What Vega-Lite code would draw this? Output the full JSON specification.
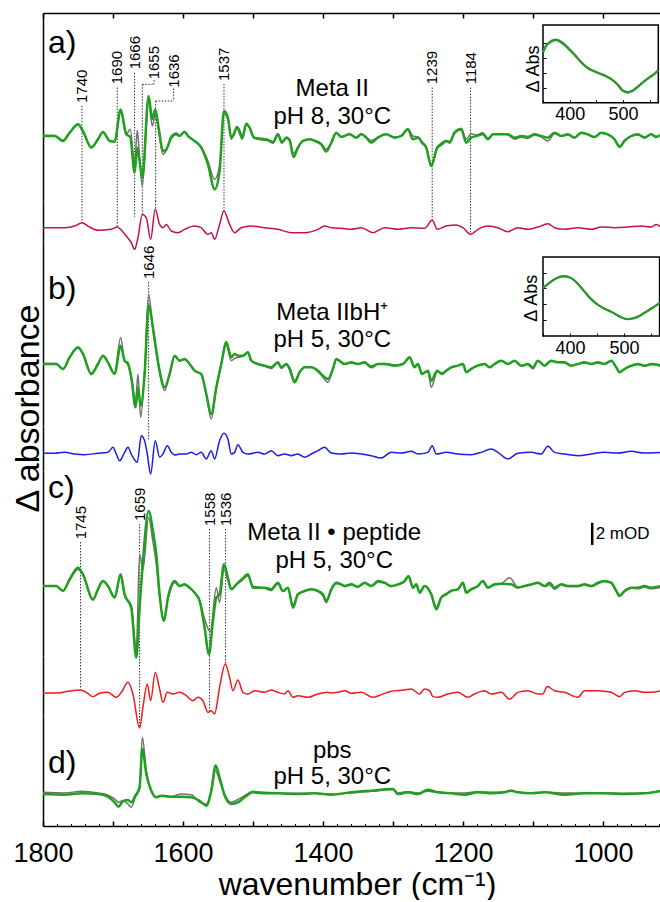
{
"$schema": "https://vega.github.io/schema/vega-lite/v6.json",
"background": "white",
"padding": {"left": 10, "top": 12, "right": 0, "bottom": 0},
"spacing": 0,
"bounds": "flush",
"config": {"view": {"stroke": null}, "font": "Liberation Sans", "axis": {"labelFont": "Liberation Sans", "titleFont": "Liberation Sans", "titleFontWeight": "normal", "labelColor": "black", "titleColor": "black", "domainColor": "black", "tickColor": "black", "grid": false}, "text": {"font": "Liberation Sans", "color": "black"}},
"datasets": {
"a_green": [{"wn":1800,"v":0},{"wn":1783.4,"v":0},{"wn":1771.5,"v":-0.45},{"wn":1761.9,"v":0.3},{"wn":1750,"v":1.06},{"wn":1742.9,"v":0.45},{"wn":1731,"v":-1.06},{"wn":1721.5,"v":-0.3},{"wn":1714.3,"v":0.36},{"wn":1704.8,"v":-0.45},{"wn":1697.7,"v":-0.52},{"wn":1689.1,"v":2.42},{"wn":1681,"v":0.15},{"wn":1675.3,"v":-0.09},{"wn":1669.1,"v":-3.33},{"wn":1665.3,"v":-1.06},{"wn":1662,"v":-2.27},{"wn":1658.1,"v":-3.79},{"wn":1649.1,"v":3.64},{"wn":1643.9,"v":1.52},{"wn":1639.6,"v":2.42},{"wn":1634.8,"v":0.76},{"wn":1628.6,"v":-1.36},{"wn":1623.9,"v":-1.21},{"wn":1616.7,"v":-0.15},{"wn":1609.6,"v":0.15},{"wn":1604.8,"v":0},{"wn":1597.7,"v":0.39},{"wn":1592.9,"v":0},{"wn":1583.4,"v":-0.45},{"wn":1573.9,"v":-1.06},{"wn":1564.3,"v":-2.58},{"wn":1554.8,"v":-4.85},{"wn":1547.7,"v":-3.18},{"wn":1541.5,"v":2.27},{"wn":1535.8,"v":1.67},{"wn":1531,"v":-0.15},{"wn":1527.2,"v":0.15},{"wn":1522.9,"v":0.82},{"wn":1519.1,"v":0.45},{"wn":1515.3,"v":-0.15},{"wn":1509.6,"v":1.12},{"wn":1504.8,"v":0.76},{"wn":1498.6,"v":-0.15},{"wn":1488.1,"v":-0.3},{"wn":1478.6,"v":-0.39},{"wn":1471.5,"v":-0.61},{"wn":1464.3,"v":0.15},{"wn":1458.6,"v":-0.61},{"wn":1452.4,"v":-0.15},{"wn":1447.7,"v":-0.39},{"wn":1442,"v":-1.91},{"wn":1435.7,"v":-1.06},{"wn":1428.6,"v":-0.45},{"wn":1419.1,"v":-0.3},{"wn":1411.9,"v":-0.45},{"wn":1402.4,"v":-0.76},{"wn":1395.3,"v":-1.42},{"wn":1388.1,"v":-0.61},{"wn":1381,"v":0.3},{"wn":1373.9,"v":-0.09},{"wn":1361.9,"v":0.15},{"wn":1352.4,"v":-0.15},{"wn":1345.3,"v":0.15},{"wn":1338.1,"v":-0.15},{"wn":1331,"v":-0.61},{"wn":1321.5,"v":-0.15},{"wn":1309.6,"v":0.15},{"wn":1297.7,"v":-0.15},{"wn":1288.1,"v":0},{"wn":1278.6,"v":0.61},{"wn":1271.5,"v":-0.3},{"wn":1263.4,"v":-0.15},{"wn":1258.6,"v":-0.61},{"wn":1252.4,"v":-1.06},{"wn":1245.3,"v":-2.73},{"wn":1236.7,"v":-1.06},{"wn":1230,"v":-0.76},{"wn":1223.9,"v":-0.45},{"wn":1219.1,"v":-0.61},{"wn":1211.9,"v":0.3},{"wn":1202.4,"v":0.61},{"wn":1195.3,"v":-0.61},{"wn":1188.1,"v":-0.15},{"wn":1181,"v":0},{"wn":1171.5,"v":0.15},{"wn":1164.3,"v":-0.3},{"wn":1157.2,"v":0.15},{"wn":1145.3,"v":0.15},{"wn":1135.8,"v":0.15},{"wn":1126.2,"v":-0.15},{"wn":1116.7,"v":0},{"wn":1107.2,"v":-0.09},{"wn":1097.6,"v":0.15},{"wn":1088.1,"v":0},{"wn":1078.6,"v":-0.15},{"wn":1069.1,"v":0.3},{"wn":1059.6,"v":0},{"wn":1050,"v":0.15},{"wn":1040.5,"v":-0.15},{"wn":1031,"v":0.3},{"wn":1021.5,"v":0.15},{"wn":1011.9,"v":-0.09},{"wn":1002.4,"v":0.3},{"wn":992.9,"v":0.15},{"wn":983.4,"v":-0.3},{"wn":976.2,"v":-1},{"wn":969.1,"v":-0.45},{"wn":959.5,"v":0},{"wn":950,"v":0.15},{"wn":940.5,"v":-0.15},{"wn":931,"v":0.15},{"wn":923.8,"v":-0.09},{"wn":916.7,"v":0.15}],
"a_gray": [{"wn":1800,"v":0.05},{"wn":1783.4,"v":0.05},{"wn":1771.5,"v":-0.4},{"wn":1761.9,"v":0.3},{"wn":1750,"v":1},{"wn":1742.9,"v":0.45},{"wn":1731,"v":-1},{"wn":1721.5,"v":-0.3},{"wn":1714.3,"v":0.36},{"wn":1704.8,"v":-0.45},{"wn":1697.7,"v":-0.52},{"wn":1689.1,"v":2.2},{"wn":1681,"v":0.15},{"wn":1675.3,"v":0.61},{"wn":1669.1,"v":-2.6},{"wn":1665.3,"v":0.52},{"wn":1662,"v":-2},{"wn":1658.1,"v":-4.55},{"wn":1649.1,"v":3.2},{"wn":1643.9,"v":0.9},{"wn":1639.6,"v":1.9},{"wn":1634.8,"v":0.45},{"wn":1628.6,"v":-1.67},{"wn":1623.9,"v":-1.3},{"wn":1616.7,"v":0},{"wn":1609.6,"v":0.3},{"wn":1604.8,"v":0.05},{"wn":1597.7,"v":0.39},{"wn":1592.9,"v":0},{"wn":1583.4,"v":-0.45},{"wn":1573.9,"v":-1},{"wn":1564.3,"v":-2.3},{"wn":1554.8,"v":-3.94},{"wn":1547.7,"v":-2.7},{"wn":1541.5,"v":2},{"wn":1535.8,"v":1.5},{"wn":1531,"v":-0.3},{"wn":1527.2,"v":0.3},{"wn":1522.9,"v":0.7},{"wn":1519.1,"v":0.2},{"wn":1515.3,"v":-0.3},{"wn":1509.6,"v":1},{"wn":1504.8,"v":0.76},{"wn":1498.6,"v":-0.1},{"wn":1488.1,"v":-0.2},{"wn":1478.6,"v":-0.3},{"wn":1471.5,"v":-0.5},{"wn":1464.3,"v":0.2},{"wn":1458.6,"v":-0.5},{"wn":1452.4,"v":-0.1},{"wn":1447.7,"v":-0.3},{"wn":1442,"v":-1.55},{"wn":1435.7,"v":-1},{"wn":1428.6,"v":-0.45},{"wn":1419.1,"v":-0.3},{"wn":1411.9,"v":-0.4},{"wn":1402.4,"v":-0.7},{"wn":1395.3,"v":-1.2},{"wn":1388.1,"v":-0.6},{"wn":1381,"v":0.3},{"wn":1373.9,"v":-0.05},{"wn":1361.9,"v":0.15},{"wn":1352.4,"v":-0.15},{"wn":1345.3,"v":0.2},{"wn":1338.1,"v":-0.1},{"wn":1331,"v":-0.4},{"wn":1321.5,"v":-0.1},{"wn":1309.6,"v":0.15},{"wn":1297.7,"v":-0.1},{"wn":1288.1,"v":0.05},{"wn":1278.6,"v":0.65},{"wn":1271.5,"v":0},{"wn":1263.4,"v":-0.1},{"wn":1258.6,"v":-0.5},{"wn":1252.4,"v":-1},{"wn":1245.3,"v":-2.6},{"wn":1236.7,"v":-1},{"wn":1230,"v":-0.6},{"wn":1223.9,"v":-0.4},{"wn":1219.1,"v":-0.5},{"wn":1211.9,"v":0.4},{"wn":1202.4,"v":0.7},{"wn":1195.3,"v":-0.3},{"wn":1188.1,"v":0.2},{"wn":1181,"v":0.1},{"wn":1171.5,"v":0.3},{"wn":1164.3,"v":-0.2},{"wn":1157.2,"v":0.15},{"wn":1145.3,"v":0.2},{"wn":1135.8,"v":0.1},{"wn":1126.2,"v":-0.3},{"wn":1116.7,"v":-0.1},{"wn":1107.2,"v":-0.2},{"wn":1097.6,"v":0.1},{"wn":1088.1,"v":-0.1},{"wn":1078.6,"v":-0.45},{"wn":1069.1,"v":0.2},{"wn":1059.6,"v":0},{"wn":1050,"v":0.1},{"wn":1040.5,"v":-0.15},{"wn":1031,"v":0.25},{"wn":1021.5,"v":0.1},{"wn":1011.9,"v":-0.1},{"wn":1002.4,"v":0.25},{"wn":992.9,"v":0.15},{"wn":983.4,"v":-0.3},{"wn":976.2,"v":-0.9},{"wn":969.1,"v":-0.4},{"wn":959.5,"v":0},{"wn":950,"v":0.1},{"wn":940.5,"v":-0.1},{"wn":931,"v":0.15},{"wn":923.8,"v":-0.05},{"wn":916.7,"v":0.1}],
"a_diff": [{"wn":1800,"v":0},{"wn":1769.1,"v":0},{"wn":1754.8,"v":0.15},{"wn":1744.3,"v":0.45},{"wn":1735.7,"v":0.15},{"wn":1721.5,"v":-0.24},{"wn":1702.4,"v":-0.15},{"wn":1693.9,"v":0.06},{"wn":1689.1,"v":-0.15},{"wn":1681,"v":-0.76},{"wn":1673.9,"v":-1.36},{"wn":1669.1,"v":-1.97},{"wn":1664.3,"v":-0.91},{"wn":1658.1,"v":1.21},{"wn":1652.4,"v":0.91},{"wn":1646.2,"v":-1.06},{"wn":1639.6,"v":1.67},{"wn":1633.4,"v":0.3},{"wn":1628.6,"v":0},{"wn":1623.9,"v":0.3},{"wn":1616.7,"v":-0.3},{"wn":1607.2,"v":-0.45},{"wn":1597.7,"v":-0.15},{"wn":1583.4,"v":0.15},{"wn":1573.9,"v":0},{"wn":1564.3,"v":-0.61},{"wn":1559.6,"v":-0.45},{"wn":1554.8,"v":-1.06},{"wn":1547.7,"v":0.3},{"wn":1541.5,"v":1.52},{"wn":1533.4,"v":0.3},{"wn":1526.2,"v":-0.45},{"wn":1516.7,"v":0},{"wn":1502.4,"v":0.15},{"wn":1483.4,"v":0},{"wn":1464.3,"v":-0.15},{"wn":1445.3,"v":-0.45},{"wn":1426.2,"v":-0.45},{"wn":1407.2,"v":-0.15},{"wn":1397.7,"v":0.15},{"wn":1388.1,"v":0},{"wn":1373.9,"v":-0.06},{"wn":1359.6,"v":-0.15},{"wn":1345.3,"v":0},{"wn":1328.6,"v":-0.45},{"wn":1311.9,"v":0},{"wn":1292.9,"v":-0.15},{"wn":1273.9,"v":0},{"wn":1254.8,"v":-0.06},{"wn":1243.9,"v":0.67},{"wn":1236.7,"v":-0.15},{"wn":1223.9,"v":0.15},{"wn":1209.6,"v":0.24},{"wn":1200,"v":0},{"wn":1189.1,"v":-0.61},{"wn":1178.6,"v":-0.15},{"wn":1164.3,"v":0.15},{"wn":1150,"v":0},{"wn":1135.8,"v":-0.36},{"wn":1121.5,"v":0},{"wn":1107.2,"v":-0.15},{"wn":1092.9,"v":0.06},{"wn":1078.6,"v":0.36},{"wn":1069.1,"v":0},{"wn":1054.8,"v":-0.15},{"wn":1035.8,"v":0},{"wn":1016.7,"v":-0.15},{"wn":1002.4,"v":0.06},{"wn":983.4,"v":0},{"wn":964.3,"v":0.06},{"wn":945.2,"v":0.15},{"wn":931,"v":0.06},{"wn":923.8,"v":0.3},{"wn":916.7,"v":0}],
"b_green": [{"wn":1800,"v":0},{"wn":1781,"v":0},{"wn":1771.5,"v":-0.45},{"wn":1761.9,"v":0.61},{"wn":1750,"v":1.52},{"wn":1742.9,"v":0.91},{"wn":1731,"v":-0.91},{"wn":1721.5,"v":0},{"wn":1714.3,"v":0.76},{"wn":1707.2,"v":0.15},{"wn":1697.7,"v":-0.91},{"wn":1689.1,"v":1.67},{"wn":1683.4,"v":0.3},{"wn":1678.6,"v":0},{"wn":1673.9,"v":-1.21},{"wn":1667.7,"v":-3.94},{"wn":1664.3,"v":-2.12},{"wn":1660.5,"v":-3.79},{"wn":1654.8,"v":-0.91},{"wn":1649.1,"v":5.3},{"wn":1642.9,"v":3.33},{"wn":1638.1,"v":1.21},{"wn":1633.4,"v":-0.61},{"wn":1626.2,"v":-2.12},{"wn":1619.1,"v":-0.91},{"wn":1611.9,"v":0.76},{"wn":1604.8,"v":0.3},{"wn":1597.7,"v":0.45},{"wn":1590.5,"v":0},{"wn":1583.4,"v":-0.61},{"wn":1573.9,"v":-0.91},{"wn":1566.7,"v":-2.73},{"wn":1559.6,"v":-4.55},{"wn":1552.4,"v":-2.12},{"wn":1545.3,"v":0},{"wn":1538.1,"v":1.97},{"wn":1531,"v":0.61},{"wn":1526.2,"v":0.91},{"wn":1521.5,"v":0.76},{"wn":1514.3,"v":0.76},{"wn":1507.2,"v":1.06},{"wn":1502.4,"v":0.3},{"wn":1492.9,"v":0},{"wn":1483.4,"v":-0.15},{"wn":1473.9,"v":-0.3},{"wn":1464.3,"v":0.15},{"wn":1459.6,"v":-0.3},{"wn":1452.4,"v":0},{"wn":1447.7,"v":-0.45},{"wn":1440.5,"v":-1.67},{"wn":1433.4,"v":-0.76},{"wn":1426.2,"v":-0.3},{"wn":1416.7,"v":-0.3},{"wn":1407.2,"v":-0.61},{"wn":1400,"v":-1.06},{"wn":1392.9,"v":-1.36},{"wn":1385.8,"v":-0.45},{"wn":1381,"v":0.45},{"wn":1369.1,"v":0},{"wn":1359.6,"v":0.15},{"wn":1350,"v":0},{"wn":1340.5,"v":0.15},{"wn":1331,"v":-0.3},{"wn":1321.5,"v":0},{"wn":1311.9,"v":0},{"wn":1297.7,"v":-0.15},{"wn":1285.8,"v":0},{"wn":1276.2,"v":0.61},{"wn":1269.1,"v":-0.3},{"wn":1264.3,"v":0},{"wn":1258.6,"v":-0.91},{"wn":1250,"v":-0.61},{"wn":1245.3,"v":-1.52},{"wn":1236.7,"v":-0.61},{"wn":1230,"v":-0.91},{"wn":1223.9,"v":-0.61},{"wn":1216.7,"v":-0.3},{"wn":1207.2,"v":-0.15},{"wn":1200,"v":0},{"wn":1195.3,"v":-0.76},{"wn":1188.1,"v":-0.45},{"wn":1178.6,"v":-0.15},{"wn":1169.1,"v":0},{"wn":1162,"v":-0.3},{"wn":1154.8,"v":0},{"wn":1145.3,"v":0.3},{"wn":1135.8,"v":0},{"wn":1126.2,"v":0.3},{"wn":1116.7,"v":-0.15},{"wn":1107.2,"v":0},{"wn":1100,"v":-0.3},{"wn":1092.9,"v":0.3},{"wn":1083.4,"v":-0.15},{"wn":1073.9,"v":0.3},{"wn":1064.3,"v":0.15},{"wn":1054.8,"v":0.15},{"wn":1045.3,"v":-0.15},{"wn":1035.8,"v":0},{"wn":1026.2,"v":0.15},{"wn":1016.7,"v":0},{"wn":1007.2,"v":0.15},{"wn":997.6,"v":0},{"wn":988.1,"v":0.3},{"wn":981,"v":-0.3},{"wn":976.2,"v":-0.76},{"wn":969.1,"v":-0.45},{"wn":959.5,"v":-0.15},{"wn":950,"v":0},{"wn":940.5,"v":-0.15},{"wn":931,"v":0},{"wn":916.7,"v":-0.15}],
"b_gray": [{"wn":1800,"v":0.05},{"wn":1781,"v":0.05},{"wn":1771.5,"v":-0.5},{"wn":1761.9,"v":0.61},{"wn":1750,"v":1.45},{"wn":1742.9,"v":0.91},{"wn":1731,"v":-0.85},{"wn":1721.5,"v":0},{"wn":1714.3,"v":0.7},{"wn":1707.2,"v":0.15},{"wn":1697.7,"v":-0.85},{"wn":1689.1,"v":2.42},{"wn":1683.4,"v":0.3},{"wn":1678.6,"v":0.15},{"wn":1673.9,"v":-1.1},{"wn":1667.7,"v":-3.33},{"wn":1664.3,"v":-0.91},{"wn":1660.5,"v":-4.85},{"wn":1654.8,"v":-0.6},{"wn":1649.1,"v":6.36},{"wn":1642.9,"v":3},{"wn":1638.1,"v":1},{"wn":1633.4,"v":-0.8},{"wn":1626.2,"v":-2.42},{"wn":1619.1,"v":-0.91},{"wn":1611.9,"v":0.7},{"wn":1604.8,"v":0.3},{"wn":1597.7,"v":0.4},{"wn":1590.5,"v":0},{"wn":1583.4,"v":-0.61},{"wn":1573.9,"v":-0.91},{"wn":1566.7,"v":-2.8},{"wn":1559.6,"v":-5},{"wn":1552.4,"v":-2.3},{"wn":1545.3,"v":0},{"wn":1538.1,"v":1.7},{"wn":1531,"v":0.3},{"wn":1526.2,"v":0.5},{"wn":1521.5,"v":0.6},{"wn":1514.3,"v":0.7},{"wn":1507.2,"v":1},{"wn":1502.4,"v":0.3},{"wn":1492.9,"v":0},{"wn":1483.4,"v":-0.2},{"wn":1473.9,"v":-0.4},{"wn":1464.3,"v":0.1},{"wn":1459.6,"v":-0.4},{"wn":1452.4,"v":-0.1},{"wn":1447.7,"v":-0.3},{"wn":1440.5,"v":-1.5},{"wn":1433.4,"v":-0.7},{"wn":1426.2,"v":-0.3},{"wn":1416.7,"v":-0.3},{"wn":1407.2,"v":-0.7},{"wn":1400,"v":-1.2},{"wn":1392.9,"v":-1.67},{"wn":1385.8,"v":-0.45},{"wn":1381,"v":0.4},{"wn":1369.1,"v":0},{"wn":1359.6,"v":0.1},{"wn":1350,"v":0},{"wn":1340.5,"v":0.1},{"wn":1331,"v":-0.15},{"wn":1321.5,"v":0},{"wn":1311.9,"v":0.05},{"wn":1297.7,"v":-0.1},{"wn":1285.8,"v":0},{"wn":1276.2,"v":0.55},{"wn":1269.1,"v":-0.2},{"wn":1264.3,"v":0},{"wn":1258.6,"v":-0.8},{"wn":1250,"v":-0.7},{"wn":1245.3,"v":-2.12},{"wn":1236.7,"v":-0.7},{"wn":1230,"v":-0.8},{"wn":1223.9,"v":-0.6},{"wn":1216.7,"v":-0.3},{"wn":1207.2,"v":-0.15},{"wn":1200,"v":0},{"wn":1195.3,"v":-0.7},{"wn":1188.1,"v":-0.4},{"wn":1178.6,"v":-0.1},{"wn":1169.1,"v":0},{"wn":1162,"v":-0.3},{"wn":1154.8,"v":0},{"wn":1145.3,"v":0.3},{"wn":1135.8,"v":0},{"wn":1126.2,"v":0.25},{"wn":1116.7,"v":-0.2},{"wn":1107.2,"v":-0.05},{"wn":1100,"v":-0.45},{"wn":1092.9,"v":0.25},{"wn":1083.4,"v":-0.15},{"wn":1073.9,"v":0.25},{"wn":1064.3,"v":0.15},{"wn":1054.8,"v":0.1},{"wn":1045.3,"v":-0.15},{"wn":1035.8,"v":0},{"wn":1026.2,"v":0.1},{"wn":1016.7,"v":0},{"wn":1007.2,"v":0.1},{"wn":997.6,"v":0},{"wn":988.1,"v":0.25},{"wn":981,"v":-0.3},{"wn":976.2,"v":-0.7},{"wn":969.1,"v":-0.45},{"wn":959.5,"v":-0.2},{"wn":950,"v":-0.05},{"wn":940.5,"v":-0.2},{"wn":931,"v":-0.05},{"wn":916.7,"v":-0.2}],
"b_diff": [{"wn":1800,"v":0.09},{"wn":1783.4,"v":0.06},{"wn":1769.1,"v":0.15},{"wn":1754.8,"v":0},{"wn":1740.5,"v":-0.06},{"wn":1721.5,"v":0.06},{"wn":1707.2,"v":0.15},{"wn":1700,"v":0.61},{"wn":1695.3,"v":0},{"wn":1690.5,"v":-0.61},{"wn":1683.4,"v":0.15},{"wn":1678.6,"v":0.61},{"wn":1673.9,"v":0},{"wn":1665.3,"v":-0.76},{"wn":1659.6,"v":1.67},{"wn":1654.8,"v":1.21},{"wn":1651,"v":0},{"wn":1646.2,"v":-1.82},{"wn":1639.6,"v":1.21},{"wn":1633.4,"v":-0.3},{"wn":1628.6,"v":0},{"wn":1622.4,"v":0.76},{"wn":1616.7,"v":0.15},{"wn":1611.9,"v":-0.09},{"wn":1604.8,"v":0},{"wn":1595.3,"v":0},{"wn":1588.1,"v":0.15},{"wn":1581,"v":-0.06},{"wn":1573.9,"v":0.15},{"wn":1566.7,"v":-0.45},{"wn":1559.6,"v":0.3},{"wn":1554.8,"v":-0.45},{"wn":1547.7,"v":1.21},{"wn":1541.5,"v":1.88},{"wn":1535.8,"v":1.36},{"wn":1531,"v":0},{"wn":1526.2,"v":0.15},{"wn":1521.5,"v":0.85},{"wn":1514.3,"v":0.15},{"wn":1507.2,"v":0},{"wn":1492.9,"v":0.15},{"wn":1483.4,"v":0},{"wn":1473.9,"v":0.3},{"wn":1464.3,"v":-0.15},{"wn":1454.8,"v":0},{"wn":1445.3,"v":-0.15},{"wn":1435.7,"v":0},{"wn":1426.2,"v":-0.3},{"wn":1416.7,"v":0},{"wn":1407.2,"v":0.3},{"wn":1397.7,"v":0.61},{"wn":1388.1,"v":0.09},{"wn":1373.9,"v":0},{"wn":1359.6,"v":0.09},{"wn":1345.3,"v":0},{"wn":1331,"v":-0.15},{"wn":1316.7,"v":-0.36},{"wn":1302.4,"v":0.15},{"wn":1288.1,"v":0.09},{"wn":1273.9,"v":0.24},{"wn":1264.3,"v":0},{"wn":1250,"v":0.15},{"wn":1243.9,"v":0.76},{"wn":1238.1,"v":0},{"wn":1223.9,"v":0.15},{"wn":1207.2,"v":0},{"wn":1188.1,"v":-0.06},{"wn":1173.9,"v":0.15},{"wn":1159.6,"v":0.45},{"wn":1150,"v":0.15},{"wn":1135.8,"v":-0.45},{"wn":1121.5,"v":0.06},{"wn":1102.4,"v":0.15},{"wn":1088.1,"v":0},{"wn":1078.6,"v":0.7},{"wn":1069.1,"v":0.15},{"wn":1054.8,"v":0},{"wn":1035.8,"v":-0.15},{"wn":1016.7,"v":0},{"wn":997.6,"v":0.15},{"wn":978.6,"v":0.09},{"wn":959.5,"v":0.24},{"wn":940.5,"v":0.09},{"wn":916.7,"v":0.15}],
"c_green": [{"wn":1800,"v":0},{"wn":1781,"v":0},{"wn":1771.5,"v":-0.45},{"wn":1761.9,"v":0.61},{"wn":1750,"v":1.67},{"wn":1742.9,"v":1.06},{"wn":1728.6,"v":-1.21},{"wn":1721.5,"v":-0.3},{"wn":1714.3,"v":0.45},{"wn":1707.2,"v":0},{"wn":1697.7,"v":-1.06},{"wn":1689.1,"v":1.06},{"wn":1683.4,"v":-0.76},{"wn":1673.9,"v":-1.97},{"wn":1666.7,"v":-6.52},{"wn":1662,"v":-1.97},{"wn":1657.2,"v":2.27},{"wn":1649.1,"v":6.82},{"wn":1642.9,"v":5},{"wn":1638.1,"v":2.88},{"wn":1633.4,"v":-0.76},{"wn":1627.2,"v":-3.18},{"wn":1621.5,"v":-1.06},{"wn":1611.9,"v":0.45},{"wn":1604.8,"v":0},{"wn":1597.7,"v":0.15},{"wn":1590.5,"v":-0.15},{"wn":1583.4,"v":-0.61},{"wn":1576.2,"v":-1.36},{"wn":1569.1,"v":-3.79},{"wn":1562.9,"v":-6.21},{"wn":1557.2,"v":-3.18},{"wn":1552.4,"v":-1.06},{"wn":1547.7,"v":-0.76},{"wn":1541.5,"v":1.97},{"wn":1535.8,"v":0.76},{"wn":1531,"v":-0.3},{"wn":1523.8,"v":0.15},{"wn":1515.7,"v":0.61},{"wn":1507.2,"v":1.06},{"wn":1500,"v":-0.15},{"wn":1492.9,"v":-0.15},{"wn":1483.4,"v":-0.15},{"wn":1473.9,"v":-0.3},{"wn":1464.3,"v":0.3},{"wn":1457.2,"v":-0.45},{"wn":1450,"v":-0.15},{"wn":1442.9,"v":-1.97},{"wn":1435.7,"v":-0.76},{"wn":1426.2,"v":-0.45},{"wn":1416.7,"v":-0.3},{"wn":1407.2,"v":-0.45},{"wn":1400,"v":-0.76},{"wn":1395.3,"v":-1.36},{"wn":1388.1,"v":-0.3},{"wn":1381,"v":0.3},{"wn":1373.9,"v":0.15},{"wn":1369.1,"v":0},{"wn":1359.6,"v":0.15},{"wn":1350,"v":-0.06},{"wn":1340.5,"v":0.3},{"wn":1331,"v":0},{"wn":1321.5,"v":0.45},{"wn":1311.9,"v":0.3},{"wn":1302.4,"v":0},{"wn":1292.9,"v":0.15},{"wn":1283.4,"v":0.45},{"wn":1277.6,"v":0.91},{"wn":1271.5,"v":-0.15},{"wn":1266.7,"v":0.15},{"wn":1261.9,"v":-0.61},{"wn":1254.8,"v":0},{"wn":1245.3,"v":-0.76},{"wn":1238.1,"v":-2.12},{"wn":1231,"v":-1.06},{"wn":1223.9,"v":-0.76},{"wn":1216.7,"v":-0.45},{"wn":1207.2,"v":-0.3},{"wn":1200,"v":0.3},{"wn":1195.3,"v":-0.61},{"wn":1188.1,"v":-0.3},{"wn":1178.6,"v":0},{"wn":1171.5,"v":0.45},{"wn":1164.3,"v":-0.15},{"wn":1154.8,"v":0.15},{"wn":1145.3,"v":0.21},{"wn":1131,"v":0.15},{"wn":1121.5,"v":-0.15},{"wn":1111.9,"v":0},{"wn":1102.4,"v":0.15},{"wn":1092.9,"v":0.3},{"wn":1083.4,"v":0},{"wn":1076.2,"v":0.3},{"wn":1069.1,"v":-0.15},{"wn":1059.6,"v":0.15},{"wn":1050,"v":0},{"wn":1035.8,"v":0},{"wn":1026.2,"v":0.15},{"wn":1016.7,"v":0},{"wn":1007.2,"v":0.3},{"wn":997.6,"v":0.45},{"wn":988.1,"v":0.3},{"wn":981,"v":-0.45},{"wn":976.2,"v":-0.91},{"wn":969.1,"v":-0.45},{"wn":959.5,"v":-0.15},{"wn":950,"v":-0.15},{"wn":940.5,"v":0},{"wn":931,"v":-0.15},{"wn":916.7,"v":0}],
"c_gray": [{"wn":1800,"v":0},{"wn":1781,"v":0},{"wn":1771.5,"v":-0.4},{"wn":1761.9,"v":0.55},{"wn":1750,"v":1.5},{"wn":1742.9,"v":1},{"wn":1728.6,"v":-1.3},{"wn":1721.5,"v":-0.3},{"wn":1714.3,"v":0.4},{"wn":1707.2,"v":0},{"wn":1697.7,"v":-1},{"wn":1689.1,"v":0.9},{"wn":1683.4,"v":-0.8},{"wn":1673.9,"v":-1.8},{"wn":1666.7,"v":-5.8},{"wn":1662,"v":2.88},{"wn":1657.2,"v":1.5},{"wn":1649.1,"v":6.2},{"wn":1642.9,"v":4},{"wn":1638.1,"v":2},{"wn":1633.4,"v":-1},{"wn":1627.2,"v":-2.9},{"wn":1621.5,"v":-1.2},{"wn":1611.9,"v":0.3},{"wn":1604.8,"v":0},{"wn":1597.7,"v":0.1},{"wn":1590.5,"v":-0.2},{"wn":1583.4,"v":-0.6},{"wn":1576.2,"v":-1.3},{"wn":1569.1,"v":-3},{"wn":1561,"v":-4.15},{"wn":1552.4,"v":-0.15},{"wn":1547.7,"v":-1.5},{"wn":1541.5,"v":1.5},{"wn":1535.8,"v":0.5},{"wn":1531,"v":-0.3},{"wn":1523.8,"v":0.1},{"wn":1515.7,"v":0.5},{"wn":1507.2,"v":0.9},{"wn":1500,"v":0},{"wn":1492.9,"v":-0.1},{"wn":1483.4,"v":-0.2},{"wn":1473.9,"v":-0.4},{"wn":1464.3,"v":0.2},{"wn":1457.2,"v":-0.5},{"wn":1450,"v":-0.2},{"wn":1442.9,"v":-1.7},{"wn":1435.7,"v":-0.7},{"wn":1426.2,"v":-0.5},{"wn":1416.7,"v":-0.3},{"wn":1407.2,"v":-0.5},{"wn":1400,"v":-0.9},{"wn":1395.3,"v":-1.52},{"wn":1388.1,"v":-0.4},{"wn":1381,"v":0.2},{"wn":1373.9,"v":0.1},{"wn":1369.1,"v":-0.05},{"wn":1359.6,"v":0.1},{"wn":1350,"v":-0.1},{"wn":1340.5,"v":0.25},{"wn":1331,"v":-0.05},{"wn":1321.5,"v":0.35},{"wn":1311.9,"v":0.25},{"wn":1302.4,"v":-0.05},{"wn":1292.9,"v":0.1},{"wn":1283.4,"v":0.4},{"wn":1277.6,"v":0.8},{"wn":1271.5,"v":-0.2},{"wn":1266.7,"v":0.1},{"wn":1261.9,"v":-0.5},{"wn":1254.8,"v":0},{"wn":1245.3,"v":-0.7},{"wn":1238.1,"v":-1.9},{"wn":1231,"v":-1},{"wn":1223.9,"v":-0.7},{"wn":1216.7,"v":-0.4},{"wn":1207.2,"v":-0.3},{"wn":1200,"v":0.2},{"wn":1195.3,"v":-0.5},{"wn":1188.1,"v":-0.3},{"wn":1178.6,"v":0},{"wn":1171.5,"v":0.4},{"wn":1164.3,"v":-0.1},{"wn":1154.8,"v":0.1},{"wn":1145.3,"v":0.2},{"wn":1133.4,"v":0.76},{"wn":1121.5,"v":-0.1},{"wn":1111.9,"v":0},{"wn":1102.4,"v":0.1},{"wn":1092.9,"v":0.25},{"wn":1083.4,"v":-0.05},{"wn":1076.2,"v":0.1},{"wn":1069.1,"v":-0.3},{"wn":1059.6,"v":0.1},{"wn":1050,"v":-0.05},{"wn":1035.8,"v":-0.05},{"wn":1026.2,"v":0.1},{"wn":1016.7,"v":-0.05},{"wn":1007.2,"v":0.2},{"wn":997.6,"v":0.4},{"wn":988.1,"v":0.25},{"wn":981,"v":-0.4},{"wn":976.2,"v":-0.8},{"wn":969.1,"v":-0.5},{"wn":959.5,"v":-0.2},{"wn":950,"v":-0.25},{"wn":940.5,"v":-0.1},{"wn":931,"v":-0.25},{"wn":916.7,"v":-0.1}],
"c_diff": [{"wn":1800,"v":0},{"wn":1778.6,"v":0},{"wn":1764.3,"v":0.15},{"wn":1746.2,"v":0.27},{"wn":1738.1,"v":0.06},{"wn":1728.6,"v":-0.33},{"wn":1719.1,"v":-0.03},{"wn":1707.2,"v":0.06},{"wn":1695.3,"v":-0.39},{"wn":1688.1,"v":0.06},{"wn":1678.6,"v":0.97},{"wn":1671.5,"v":-0.09},{"wn":1662,"v":-3.18},{"wn":1657.2,"v":-1.3},{"wn":1651,"v":0.82},{"wn":1646.2,"v":-0.7},{"wn":1639.6,"v":1.88},{"wn":1633.4,"v":0.36},{"wn":1628.6,"v":-0.85},{"wn":1622.4,"v":0.06},{"wn":1614.3,"v":-0.09},{"wn":1604.8,"v":0.06},{"wn":1595.3,"v":-0.24},{"wn":1585.8,"v":-0.7},{"wn":1578.6,"v":-0.39},{"wn":1571.5,"v":-0.7},{"wn":1564.3,"v":-1.76},{"wn":1559.6,"v":-1.61},{"wn":1554.8,"v":-1.91},{"wn":1547.7,"v":0.52},{"wn":1539.5,"v":2.64},{"wn":1533.4,"v":1.42},{"wn":1528.6,"v":0.21},{"wn":1521.5,"v":1.18},{"wn":1514.3,"v":0.06},{"wn":1507.2,"v":-0.09},{"wn":1497.6,"v":0.21},{"wn":1483.4,"v":0.06},{"wn":1473.9,"v":0.27},{"wn":1464.3,"v":0.06},{"wn":1454.8,"v":-0.09},{"wn":1450,"v":0.21},{"wn":1442.9,"v":-0.39},{"wn":1435.7,"v":-0.24},{"wn":1421.5,"v":-0.39},{"wn":1407.2,"v":-0.09},{"wn":1392.9,"v":0.06},{"wn":1388.1,"v":0},{"wn":1378.6,"v":0.06},{"wn":1369.1,"v":0.21},{"wn":1359.6,"v":-0.03},{"wn":1345.3,"v":0.06},{"wn":1328.6,"v":-0.39},{"wn":1316.7,"v":-0.15},{"wn":1302.4,"v":0.15},{"wn":1283.4,"v":0.27},{"wn":1273.9,"v":0.36},{"wn":1261.9,"v":-0.09},{"wn":1254.8,"v":0.36},{"wn":1247.7,"v":0.21},{"wn":1242.9,"v":-0.33},{"wn":1235.7,"v":-0.39},{"wn":1221.5,"v":-0.09},{"wn":1207.2,"v":0.06},{"wn":1192.9,"v":-0.39},{"wn":1183.4,"v":-0.09},{"wn":1169.1,"v":0.21},{"wn":1159.6,"v":-0.09},{"wn":1145.3,"v":0.06},{"wn":1133.4,"v":-0.55},{"wn":1121.5,"v":0.06},{"wn":1107.2,"v":0.21},{"wn":1092.9,"v":-0.09},{"wn":1085.7,"v":-0.09},{"wn":1079.6,"v":0.58},{"wn":1069.1,"v":0.21},{"wn":1054.8,"v":0.06},{"wn":1035.8,"v":-0.39},{"wn":1026.2,"v":0.21},{"wn":1007.2,"v":0.21},{"wn":988.1,"v":0.06},{"wn":976.2,"v":-0.33},{"wn":969.1,"v":0.06},{"wn":954.8,"v":0.21},{"wn":940.5,"v":0.06},{"wn":931,"v":0.06},{"wn":916.7,"v":0.21}],
"d_green": [{"wn":1800,"v":0},{"wn":1769.1,"v":-0.06},{"wn":1745.3,"v":0.06},{"wn":1721.5,"v":0},{"wn":1707.2,"v":-0.24},{"wn":1697.7,"v":-0.76},{"wn":1692,"v":-1.15},{"wn":1685.8,"v":-0.67},{"wn":1678.6,"v":-0.55},{"wn":1673.9,"v":-0.76},{"wn":1668.1,"v":-0.15},{"wn":1662,"v":0.61},{"wn":1658.1,"v":4.09},{"wn":1652.4,"v":1.82},{"wn":1645.3,"v":0.3},{"wn":1638.1,"v":-0.3},{"wn":1630.9,"v":-0.15},{"wn":1616.7,"v":-0.24},{"wn":1602.4,"v":-0.24},{"wn":1588.1,"v":-0.3},{"wn":1576.2,"v":-0.61},{"wn":1566.7,"v":-1.06},{"wn":1559.6,"v":0.3},{"wn":1553.4,"v":2.58},{"wn":1547.7,"v":1.52},{"wn":1540.5,"v":-0.15},{"wn":1531,"v":-0.91},{"wn":1521.5,"v":-0.76},{"wn":1511.9,"v":-0.3},{"wn":1500,"v":0.15},{"wn":1483.4,"v":0.06},{"wn":1464.3,"v":0.06},{"wn":1435.7,"v":0},{"wn":1411.9,"v":0.06},{"wn":1388.1,"v":-0.06},{"wn":1359.6,"v":0.15},{"wn":1331,"v":0.3},{"wn":1300,"v":0.45},{"wn":1292.9,"v":0},{"wn":1278.6,"v":0.15},{"wn":1264.3,"v":0},{"wn":1250,"v":0.39},{"wn":1235.7,"v":0.15},{"wn":1216.7,"v":0.06},{"wn":1197.6,"v":-0.06},{"wn":1178.6,"v":0.15},{"wn":1159.6,"v":0.06},{"wn":1140.5,"v":0.15},{"wn":1131,"v":0.3},{"wn":1121.5,"v":0.15},{"wn":1102.4,"v":0.06},{"wn":1083.4,"v":0.15},{"wn":1054.8,"v":-0.06},{"wn":1026.2,"v":0.06},{"wn":997.6,"v":0.06},{"wn":969.1,"v":0},{"wn":940.5,"v":0.06},{"wn":916.7,"v":0.3}],
"d_gray": [{"wn":1800,"v":0.15},{"wn":1769.1,"v":0.1},{"wn":1745.3,"v":0.24},{"wn":1721.5,"v":0.1},{"wn":1707.2,"v":-0.1},{"wn":1697.7,"v":-0.45},{"wn":1692,"v":-0.76},{"wn":1685.8,"v":-0.6},{"wn":1678.6,"v":-0.91},{"wn":1673.9,"v":-1.21},{"wn":1668.1,"v":-0.3},{"wn":1662,"v":0.5},{"wn":1658.1,"v":5.15},{"wn":1652.4,"v":2.12},{"wn":1645.3,"v":0.3},{"wn":1638.1,"v":-0.24},{"wn":1630.9,"v":-0.2},{"wn":1616.7,"v":-0.24},{"wn":1602.4,"v":0},{"wn":1588.1,"v":-0.06},{"wn":1576.2,"v":-0.76},{"wn":1566.7,"v":-0.91},{"wn":1559.6,"v":0.15},{"wn":1553.4,"v":2.12},{"wn":1547.7,"v":1.21},{"wn":1540.5,"v":0},{"wn":1531,"v":-0.76},{"wn":1521.5,"v":-0.5},{"wn":1511.9,"v":-0.15},{"wn":1500,"v":0.24},{"wn":1483.4,"v":0.15},{"wn":1464.3,"v":0.1},{"wn":1435.7,"v":0.06},{"wn":1411.9,"v":0.06},{"wn":1388.1,"v":0},{"wn":1359.6,"v":0.1},{"wn":1331,"v":0.24},{"wn":1300,"v":0.4},{"wn":1292.9,"v":0.1},{"wn":1278.6,"v":0.2},{"wn":1264.3,"v":0.1},{"wn":1250,"v":0.24},{"wn":1235.7,"v":0.15},{"wn":1216.7,"v":0.1},{"wn":1197.6,"v":0.1},{"wn":1178.6,"v":0.2},{"wn":1159.6,"v":0.15},{"wn":1140.5,"v":0.2},{"wn":1131,"v":0.35},{"wn":1121.5,"v":0.15},{"wn":1102.4,"v":0.1},{"wn":1083.4,"v":0.15},{"wn":1054.8,"v":0.1},{"wn":1026.2,"v":0.06},{"wn":997.6,"v":0.1},{"wn":969.1,"v":0.06},{"wn":940.5,"v":0.1},{"wn":916.7,"v":0.3}],
"ia_green": [{"nm":350,"v":0.0133},{"nm":356.2,"v":0.0178},{"nm":365.6,"v":0.0207},{"nm":374.9,"v":0.0216},{"nm":384.2,"v":0.02},{"nm":396.7,"v":0.0162},{"nm":409.1,"v":0.0118},{"nm":421.6,"v":0.0067},{"nm":434,"v":0.0029},{"nm":446.5,"v":0.0007},{"nm":462.1,"v":-0.0016},{"nm":477.6,"v":-0.0044},{"nm":490.1,"v":-0.0082},{"nm":499.4,"v":-0.0122},{"nm":508.7,"v":-0.0133},{"nm":518.1,"v":-0.0122},{"nm":527.4,"v":-0.0096},{"nm":536.8,"v":-0.0067},{"nm":549.2,"v":-0.0033},{"nm":558.5,"v":-0.0011},{"nm":566,"v":0.0016}],
"ia_gray": [{"nm":350,"v":0.014},{"nm":356.2,"v":0.0185},{"nm":365.6,"v":0.0213},{"nm":374.9,"v":0.0222},{"nm":384.2,"v":0.0207},{"nm":396.7,"v":0.0168},{"nm":409.1,"v":0.0122},{"nm":421.6,"v":0.0072},{"nm":434,"v":0.0033},{"nm":446.5,"v":0.001},{"nm":462.1,"v":-0.0012},{"nm":477.6,"v":-0.004},{"nm":490.1,"v":-0.0078},{"nm":499.4,"v":-0.0117},{"nm":508.7,"v":-0.0128},{"nm":518.1,"v":-0.0118},{"nm":527.4,"v":-0.0092},{"nm":536.8,"v":-0.0063},{"nm":549.2,"v":-0.003},{"nm":558.5,"v":-0.0007},{"nm":566,"v":0.0019}],
"ib_green": [{"nm":350,"v":0},{"nm":362.5,"v":0.0036},{"nm":375,"v":0.0063},{"nm":387.5,"v":0.0076},{"nm":399.9,"v":0.0068},{"nm":412.4,"v":0.0036},{"nm":424.9,"v":-0.0013},{"nm":437.4,"v":-0.0063},{"nm":449.9,"v":-0.0101},{"nm":462.4,"v":-0.0127},{"nm":478,"v":-0.0152},{"nm":493.6,"v":-0.0182},{"nm":506.1,"v":-0.0196},{"nm":518.6,"v":-0.019},{"nm":531,"v":-0.0171},{"nm":543.5,"v":-0.0144},{"nm":556,"v":-0.0118},{"nm":566,"v":-0.0093}],
"ib_gray": [{"nm":350,"v":0.0002},{"nm":362.5,"v":0.0038},{"nm":375,"v":0.0065},{"nm":387.5,"v":0.0078},{"nm":399.9,"v":0.007},{"nm":412.4,"v":0.0038},{"nm":424.9,"v":-0.0011},{"nm":437.4,"v":-0.0061},{"nm":449.9,"v":-0.0099},{"nm":462.4,"v":-0.0125},{"nm":478,"v":-0.015},{"nm":493.6,"v":-0.018},{"nm":506.1,"v":-0.0194},{"nm":518.6,"v":-0.0188},{"nm":531,"v":-0.0169},{"nm":543.5,"v":-0.0142},{"nm":556,"v":-0.0116},{"nm":566,"v":-0.0091}],
"insetframes": [{"panel":"a","nm":350,"nm2":566,"v":-0.02,"v2":0.0318},{"panel":"b","nm":350,"nm2":566,"v":-0.0302,"v2":0.0199}],
"segments": [{"panel":"a","wn":1744.3,"wn2":1744.3,"v":2.75,"v2":-5.909},{"panel":"a","wn":1693.9,"wn2":1693.9,"v":4.4,"v2":-5.909},{"panel":"a","wn":1669.1,"wn2":1669.1,"v":5.75,"v2":-5.909},{"panel":"a","wn":1641.4,"wn2":1641.4,"v":5.09,"v2":4.7},{"panel":"a","wn":1658.1,"wn2":1641.4,"v":4.7,"v2":4.7},{"panel":"a","wn":1658.1,"wn2":1658.1,"v":4.7,"v2":-5.909},{"panel":"a","wn":1613.4,"wn2":1613.4,"v":4.32,"v2":3.18},{"panel":"a","wn":1639.1,"wn2":1613.4,"v":3.18,"v2":3.18},{"panel":"a","wn":1639.1,"wn2":1639.1,"v":3.18,"v2":-5.909},{"panel":"a","wn":1541.4,"wn2":1541.4,"v":4.73,"v2":-5.909},{"panel":"a","wn":1243.9,"wn2":1243.9,"v":4.4,"v2":-5.909},{"panel":"a","wn":1189.1,"wn2":1189.1,"v":4.4,"v2":-5.909},{"panel":"ad","wn":1744.3,"wn2":1744.3,"v":2.427,"v2":0.45},{"panel":"ad","wn":1693.9,"wn2":1693.9,"v":2.427,"v2":0.1},{"panel":"ad","wn":1669.1,"wn2":1669.1,"v":2.427,"v2":1},{"panel":"ad","wn":1658.1,"wn2":1658.1,"v":2.427,"v2":1.21},{"panel":"ad","wn":1639.1,"wn2":1639.1,"v":2.427,"v2":1.6},{"panel":"ad","wn":1541.4,"wn2":1541.4,"v":2.427,"v2":1.5},{"panel":"ad","wn":1243.9,"wn2":1243.9,"v":2.427,"v2":0.65},{"panel":"ad","wn":1189.1,"wn2":1189.1,"v":2.427,"v2":-0.6},{"panel":"b","wn":1649.1,"wn2":1649.1,"v":7.45,"v2":-5.636},{"panel":"bd","wn":1649.1,"wn2":1649.1,"v":2.545,"v2":1.2},{"panel":"c","wn":1746.3,"wn2":1746.3,"v":4,"v2":-6.364},{"panel":"c","wn":1662,"wn2":1662,"v":5.64,"v2":-6.364},{"panel":"c","wn":1562,"wn2":1562,"v":5.18,"v2":-6.364},{"panel":"c","wn":1539.1,"wn2":1539.1,"v":5.18,"v2":-6.364},{"panel":"cd","wn":1746.3,"wn2":1746.3,"v":3.364,"v2":0.3},{"panel":"cd","wn":1662,"wn2":1662,"v":3.364,"v2":-3.15},{"panel":"cd","wn":1562,"wn2":1562,"v":3.364,"v2":-1.7},{"panel":"cd","wn":1539.1,"wn2":1539.1,"v":3.364,"v2":2.6}],
"peaklabels": [{"panel":"a","label":"1740","wn":1744.3,"v":3.0},{"panel":"a","label":"1690","wn":1693.9,"v":4.7},{"panel":"a","label":"1666","wn":1669.1,"v":6.06},{"panel":"a","label":"1655","wn":1641.4,"v":5.15},{"panel":"a","label":"1636","wn":1613.4,"v":4.39},{"panel":"a","label":"1537","wn":1541.4,"v":5.0},{"panel":"a","label":"1239","wn":1243.9,"v":4.7},{"panel":"a","label":"1184","wn":1189.1,"v":4.7},{"panel":"b","label":"1646","wn":1649.1,"v":7.73},{"panel":"c","label":"1745","wn":1746.3,"v":4.24},{"panel":"c","label":"1659","wn":1662,"v":5.91},{"panel":"c","label":"1558","wn":1562,"v":5.45},{"panel":"c","label":"1536","wn":1539.1,"v":5.45}],
"titles": [{"panel":"a","label":"Meta II","wn":1386.7,"v":3.64},{"panel":"a","label":"pH 8, 30°C","wn":1386.7,"v":1.09},{"panel":"b","label":"Meta IIbH⁺","wn":1386.7,"v":4.03},{"panel":"b","label":"pH 5, 30°C","wn":1386.7,"v":1.51},{"panel":"c","label":"Meta II • peptide","wn":1383.9,"v":4.18},{"panel":"c","label":"pH 5, 30°C","wn":1383.9,"v":1.66},{"panel":"d","label":"pbs","wn":1386.7,"v":3.3},{"panel":"d","label":"pH 5, 30°C","wn":1386.7,"v":0.94}],
"panellabels": [{"panel":"a","label":"a)","wn":1792.9,"v":7.55},{"panel":"b","label":"b)","wn":1792.9,"v":5.94},{"panel":"c","label":"c)","wn":1792.9,"v":8.0},{"panel":"d","label":"d)","wn":1792.9,"v":1.94}],
"scalebar": [{"wn":1015.3,"v":3.73,"v2":5.75}],
"notes": [{"label":"2 mOD","wn":1010.4,"v":4.73}]
},
"vconcat": [
{
 "width": 618, "height": 188,
 "layer": [
  {
   "encoding": {
    "x": {"field": "wn", "type": "quantitative", "scale": {"domain": [917, 1800], "reverse": true, "nice": false, "zero": false}, "axis": {"orient": "top", "values": [1800,1700,1600,1500,1400,1300,1200,1100,1000], "tickSize": -5, "tickWidth": 1.5, "labels": false, "title": null, "domainWidth": 1.5}},
    "y": {"field": "v", "type": "quantitative", "scale": {"domain": [-5.909, 11.182], "nice": false, "zero": false}, "axis": {"orient": "left", "ticks": false, "labels": false, "title": null, "domainWidth": 1.5}}
   },
   "layer": [
    {"data": {"name": "segments"}, "transform": [{"filter": "datum.panel == 'a'"}], "mark": {"type": "rule", "color": "#333333", "strokeWidth": 1, "strokeDash": [1.5, 1.5]}, "encoding": {"x2": {"field": "wn2"}, "y2": {"field": "v2"}}},
    {"data": {"name": "a_gray"}, "mark": {"type": "line", "color": "#707070", "strokeWidth": 1.5, "interpolate": "monotone"}},
    {"data": {"name": "a_green"}, "mark": {"type": "line", "color": "#1fa01f", "strokeWidth": 2.5, "interpolate": "monotone"}},
    {"data": {"name": "peaklabels"}, "transform": [{"filter": "datum.panel == 'a'"}], "mark": {"type": "text", "angle": 270, "align": "left", "baseline": "middle", "fontSize": 15}, "encoding": {"text": {"field": "label"}}},
    {"data": {"name": "titles"}, "transform": [{"filter": "datum.panel == 'a'"}], "mark": {"type": "text", "align": "center", "baseline": "alphabetic", "fontSize": 24}, "encoding": {"text": {"field": "label"}}},
    {"data": {"name": "panellabels"}, "transform": [{"filter": "datum.panel == 'a'"}], "mark": {"type": "text", "align": "left", "baseline": "alphabetic", "fontSize": 32}, "encoding": {"text": {"field": "label"}}}
   ]
  },
  {
   "encoding": {
    "x": {"field": "nm", "type": "quantitative", "scale": {"domain": [350, 566], "range": [500, 615.3], "nice": false, "zero": false}, "axis": {"orient": "bottom", "offset": -98.3, "values": [350,400,450,500,550], "tickSize": -3, "labelExpr": "datum.value == 400 || datum.value == 500 ? datum.label : ''", "labelFontSize": 18, "labelPadding": 6, "labelFlush": false, "labelOverlap": false, "domain": false, "title": null}},
    "y": {"field": "v", "type": "quantitative", "scale": {"domain": [-0.02, 0.0318], "range": [89.7, 12], "nice": false, "zero": false}, "axis": {"orient": "left", "offset": -500, "values": [-0.01, 0, 0.01, 0.02], "tickSize": -3, "labels": false, "domain": false, "title": "Δ Abs", "titleFontSize": 18, "titleX": -4.7, "titleY": 55.5, "titleAngle": 270, "titleAlign": "center", "titleBaseline": "alphabetic"}}
   },
   "layer": [
    {"data": {"name": "insetframes"}, "transform": [{"filter": "datum.panel == 'a'"}], "mark": {"type": "rect", "filled": false, "color": "black", "strokeWidth": 1.5}, "encoding": {"x2": {"field": "nm2"}, "y2": {"field": "v2"}}},
    {"data": {"name": "ia_gray"}, "mark": {"type": "line", "color": "#707070", "strokeWidth": 2, "interpolate": "monotone"}},
    {"data": {"name": "ia_green"}, "mark": {"type": "line", "color": "#1fa01f", "strokeWidth": 2, "interpolate": "monotone"}}
   ]
  }
 ],
 "resolve": {"scale": {"x": "independent", "y": "independent"}, "axis": {"x": "independent", "y": "independent"}}
},
{
 "width": 618, "height": 40,
 "encoding": {
  "x": {"field": "wn", "type": "quantitative", "scale": {"domain": [917, 1800], "reverse": true, "nice": false, "zero": false}, "axis": null},
  "y": {"field": "v", "type": "quantitative", "scale": {"domain": [-1.209, 2.427], "nice": false, "zero": false}, "axis": {"orient": "left", "ticks": false, "labels": false, "title": null, "domainWidth": 1.5}}
 },
 "layer": [
  {"data": {"name": "segments"}, "transform": [{"filter": "datum.panel == 'ad'"}], "mark": {"type": "rule", "color": "#333333", "strokeWidth": 1, "strokeDash": [1.5, 1.5]}, "encoding": {"x2": {"field": "wn2"}, "y2": {"field": "v2"}}},
  {"data": {"name": "a_diff"}, "mark": {"type": "line", "color": "#c8104c", "strokeWidth": 1.5, "interpolate": "monotone"}}
 ]
},
{
 "width": 618, "height": 185,
 "layer": [
  {
   "encoding": {
    "x": {"field": "wn", "type": "quantitative", "scale": {"domain": [917, 1800], "reverse": true, "nice": false, "zero": false}, "axis": null},
    "y": {"field": "v", "type": "quantitative", "scale": {"domain": [-5.636, 11.182], "nice": false, "zero": false}, "axis": {"orient": "left", "ticks": false, "labels": false, "domainWidth": 1.5, "title": "Δ absorbance", "titleFontSize": 34, "titleAngle": 270, "titleX": -5, "titleY": 167, "titleAlign": "center", "titleBaseline": "alphabetic"}}
   },
   "layer": [
    {"data": {"name": "segments"}, "transform": [{"filter": "datum.panel == 'b'"}], "mark": {"type": "rule", "color": "#333333", "strokeWidth": 1, "strokeDash": [1.5, 1.5]}, "encoding": {"x2": {"field": "wn2"}, "y2": {"field": "v2"}}},
    {"data": {"name": "b_gray"}, "mark": {"type": "line", "color": "#707070", "strokeWidth": 1.5, "interpolate": "monotone"}},
    {"data": {"name": "b_green"}, "mark": {"type": "line", "color": "#1fa01f", "strokeWidth": 2.5, "interpolate": "monotone"}},
    {"data": {"name": "peaklabels"}, "transform": [{"filter": "datum.panel == 'b'"}], "mark": {"type": "text", "angle": 270, "align": "left", "baseline": "middle", "fontSize": 15}, "encoding": {"text": {"field": "label"}}},
    {"data": {"name": "titles"}, "transform": [{"filter": "datum.panel == 'b'"}], "mark": {"type": "text", "align": "center", "baseline": "alphabetic", "fontSize": 24}, "encoding": {"text": {"field": "label"}}},
    {"data": {"name": "panellabels"}, "transform": [{"filter": "datum.panel == 'b'"}], "mark": {"type": "text", "align": "left", "baseline": "alphabetic", "fontSize": 32}, "encoding": {"text": {"field": "label"}}}
   ]
  },
  {
   "encoding": {
    "x": {"field": "nm", "type": "quantitative", "scale": {"domain": [350, 566], "range": [500, 616.6], "nice": false, "zero": false}, "axis": {"orient": "bottom", "offset": -90, "values": [350,400,450,500,550], "tickSize": -3, "labelExpr": "datum.value == 400 || datum.value == 500 ? datum.label : ''", "labelFontSize": 18, "labelPadding": 6, "labelFlush": false, "labelOverlap": false, "domain": false, "title": null}},
    "y": {"field": "v", "type": "quantitative", "scale": {"domain": [-0.0302, 0.0199], "range": [95, 16], "nice": false, "zero": false}, "axis": {"orient": "left", "offset": -500, "values": [-0.02, -0.01, 0, 0.01], "tickSize": -3, "labels": false, "domain": false, "title": "Δ Abs", "titleFontSize": 18, "titleX": -6.7, "titleY": 56.7, "titleAngle": 270, "titleAlign": "center", "titleBaseline": "alphabetic"}}
   },
   "layer": [
    {"data": {"name": "insetframes"}, "transform": [{"filter": "datum.panel == 'b'"}], "mark": {"type": "rect", "filled": false, "color": "black", "strokeWidth": 1.5}, "encoding": {"x2": {"field": "nm2"}, "y2": {"field": "v2"}}},
    {"data": {"name": "ib_gray"}, "mark": {"type": "line", "color": "#707070", "strokeWidth": 2, "interpolate": "monotone"}},
    {"data": {"name": "ib_green"}, "mark": {"type": "line", "color": "#1fa01f", "strokeWidth": 2, "interpolate": "monotone"}}
   ]
  }
 ],
 "resolve": {"scale": {"x": "independent", "y": "independent"}, "axis": {"x": "independent", "y": "independent"}}
},
{
 "width": 618, "height": 45,
 "encoding": {
  "x": {"field": "wn", "type": "quantitative", "scale": {"domain": [917, 1800], "reverse": true, "nice": false, "zero": false}, "axis": null},
  "y": {"field": "v", "type": "quantitative", "scale": {"domain": [-1.545, 2.545], "nice": false, "zero": false}, "axis": {"orient": "left", "ticks": false, "labels": false, "title": null, "domainWidth": 1.5}}
 },
 "layer": [
  {"data": {"name": "segments"}, "transform": [{"filter": "datum.panel == 'bd'"}], "mark": {"type": "rule", "color": "#333333", "strokeWidth": 1, "strokeDash": [1.5, 1.5]}, "encoding": {"x2": {"field": "wn2"}, "y2": {"field": "v2"}}},
  {"data": {"name": "b_diff"}, "mark": {"type": "line", "color": "#1c1cf0", "strokeWidth": 1.5, "interpolate": "monotone"}}
 ]
},
{
 "width": 618, "height": 185,
 "encoding": {
  "x": {"field": "wn", "type": "quantitative", "scale": {"domain": [917, 1800], "reverse": true, "nice": false, "zero": false}, "axis": null},
  "y": {"field": "v", "type": "quantitative", "scale": {"domain": [-6.364, 10.455], "nice": false, "zero": false}, "axis": {"orient": "left", "ticks": false, "labels": false, "title": null, "domainWidth": 1.5}}
 },
 "layer": [
  {"data": {"name": "segments"}, "transform": [{"filter": "datum.panel == 'c'"}], "mark": {"type": "rule", "color": "#333333", "strokeWidth": 1, "strokeDash": [1.5, 1.5]}, "encoding": {"x2": {"field": "wn2"}, "y2": {"field": "v2"}}},
  {"data": {"name": "c_gray"}, "mark": {"type": "line", "color": "#707070", "strokeWidth": 1.5, "interpolate": "monotone"}},
  {"data": {"name": "c_green"}, "mark": {"type": "line", "color": "#1fa01f", "strokeWidth": 2.5, "interpolate": "monotone"}},
  {"data": {"name": "peaklabels"}, "transform": [{"filter": "datum.panel == 'c'"}], "mark": {"type": "text", "angle": 270, "align": "left", "baseline": "middle", "fontSize": 15}, "encoding": {"text": {"field": "label"}}},
  {"data": {"name": "titles"}, "transform": [{"filter": "datum.panel == 'c'"}], "mark": {"type": "text", "align": "center", "baseline": "alphabetic", "fontSize": 24}, "encoding": {"text": {"field": "label"}}},
  {"data": {"name": "panellabels"}, "transform": [{"filter": "datum.panel == 'c'"}], "mark": {"type": "text", "align": "left", "baseline": "alphabetic", "fontSize": 32}, "encoding": {"text": {"field": "label"}}},
  {"data": {"name": "scalebar"}, "mark": {"type": "rule", "color": "black", "strokeWidth": 2.5}, "encoding": {"y2": {"field": "v2"}}},
  {"data": {"name": "notes"}, "mark": {"type": "text", "align": "left", "baseline": "middle", "fontSize": 17}, "encoding": {"text": {"field": "label"}}}
 ]
},
{
 "width": 618, "height": 60,
 "encoding": {
  "x": {"field": "wn", "type": "quantitative", "scale": {"domain": [917, 1800], "reverse": true, "nice": false, "zero": false}, "axis": null},
  "y": {"field": "v", "type": "quantitative", "scale": {"domain": [-2.091, 3.364], "nice": false, "zero": false}, "axis": {"orient": "left", "ticks": false, "labels": false, "title": null, "domainWidth": 1.5}}
 },
 "layer": [
  {"data": {"name": "segments"}, "transform": [{"filter": "datum.panel == 'cd'"}], "mark": {"type": "rule", "color": "#333333", "strokeWidth": 1, "strokeDash": [1.5, 1.5]}, "encoding": {"x2": {"field": "wn2"}, "y2": {"field": "v2"}}},
  {"data": {"name": "c_diff"}, "mark": {"type": "line", "color": "#f21a1a", "strokeWidth": 1.5, "interpolate": "monotone"}}
 ]
},
{
 "width": 618, "height": 110,
 "encoding": {
  "y": {"field": "v", "type": "quantitative", "scale": {"domain": [-2.909, 7.091], "nice": false, "zero": false}, "axis": {"orient": "left", "ticks": false, "labels": false, "title": null, "domainWidth": 1.5}}
 },
 "layer": [
  {"data": {"name": "d_gray"}, "mark": {"type": "line", "color": "#707070", "strokeWidth": 1.5, "interpolate": "monotone"}, "encoding": {"x": {"field": "wn", "type": "quantitative", "scale": {"domain": [917, 1800], "reverse": true, "nice": false, "zero": false}, "axis": {"orient": "bottom", "values": [1800,1700,1600,1500,1400,1300,1200,1100,1000], "tickSize": -5, "tickWidth": 1.5, "domainWidth": 1.5, "format": "d", "labelExpr": "datum.value % 200 == 0 ? datum.label : ''", "labelFontSize": 27, "labelPadding": 19, "labelFlush": false, "labelOverlap": false, "title": "wavenumber (cm⁻¹)", "titleFontSize": 32, "titleX": 314, "titleY": 68, "titleAlign": "center", "titleBaseline": "alphabetic"}}}},
  {"data": {"name": "d_green"}, "mark": {"type": "line", "color": "#1fa01f", "strokeWidth": 2.5, "interpolate": "monotone"}, "encoding": {"x": {"field": "wn", "type": "quantitative", "axis": {"orient": "bottom", "values": [1780,1760,1740,1720,1680,1660,1640,1620,1580,1560,1540,1520,1480,1460,1440,1420,1380,1360,1340,1320,1280,1260,1240,1220,1180,1160,1140,1120,1080,1060,1040,1020,980,960,940,920], "tickSize": -2.5, "tickWidth": 1, "labels": false, "domain": false, "title": null}}}},
  {"data": {"name": "titles"}, "transform": [{"filter": "datum.panel == 'd'"}], "mark": {"type": "text", "align": "center", "baseline": "alphabetic", "fontSize": 24}, "encoding": {"x": {"field": "wn", "type": "quantitative", "axis": null}, "text": {"field": "label"}}},
  {"data": {"name": "panellabels"}, "transform": [{"filter": "datum.panel == 'd'"}], "mark": {"type": "text", "align": "left", "baseline": "alphabetic", "fontSize": 32}, "encoding": {"x": {"field": "wn", "type": "quantitative", "axis": null}, "text": {"field": "label"}}}
 ],
 "resolve": {"axis": {"x": "independent"}}
}
]
}
